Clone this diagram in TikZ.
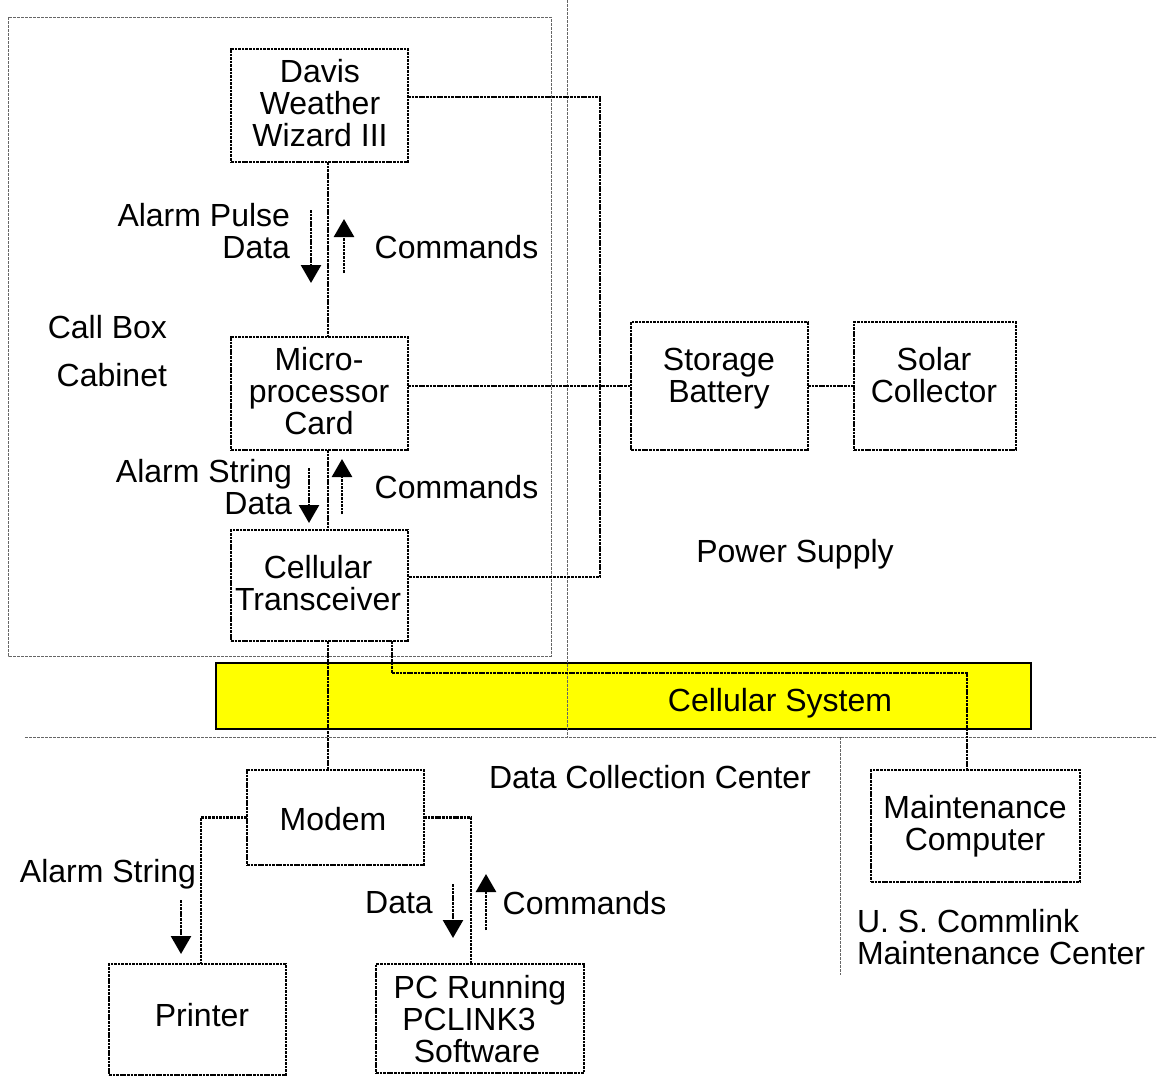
\documentclass[tikz,border=0pt]{standalone}
\usepackage{fontspec}
\setmainfont{Liberation Sans}
\usetikzlibrary{arrows.meta,calc}
\definecolor{cellyellow}{RGB}{255,255,0}

\begin{document}
\begin{tikzpicture}[x=1pt,y=-1pt,
  txt/.style={inner sep=0pt, outer sep=0pt, align=center,
    font=\fontsize{32}{32}\selectfont},
  dotline/.style={line width=2.6pt, dash pattern=on 2.7pt off 0.9pt},
  box/.style={draw, dotline, inner sep=0pt, outer sep=0pt},
  conn/.style={dotline},
  flow/.style={dotline, -{Triangle[width=20pt,length=18pt]}},
  region/.style={draw=black!60, line width=1pt, dash pattern=on 3pt off 1pt}]

\useasboundingbox (0,0) rectangle (1157,1076);

% cellular network band
\draw[fill=cellyellow, line width=2.5pt] (216,663) rectangle (1031,729);

% region boundaries
\draw[region] (8,17) rectangle (551,656);
\draw[region] (567,0) -- (567,737);
\draw[region] (25,737) -- (1157,737);
\draw[region] (840,737) -- (840,975);

% equipment boxes
\node[box, minimum width=177pt, minimum height=113pt] (davis)   at (319.5,105.5) {};
\node[box, minimum width=177pt, minimum height=113pt] (micro)   at (319.5,393.5) {};
\node[box, minimum width=177pt, minimum height=111pt] (trans)   at (319.5,585.5) {};
\node[box, minimum width=177pt, minimum height=128pt] (battery) at (719.5,386) {};
\node[box, minimum width=162pt, minimum height=128pt] (solar)   at (935,386) {};
\node[box, minimum width=177pt, minimum height=95pt]  (modem)   at (335.5,817.5) {};
\node[box, minimum width=177pt, minimum height=111pt] (printer) at (197.5,1019.5) {};
\node[box, minimum width=208pt, minimum height=109pt] (pc)      at (480,1018.5) {};
\node[box, minimum width=209pt, minimum height=112pt] (maint)   at (975.5,826) {};

% box texts
\node[txt] (tdavis)   at (320,103)  {Davis\\Weather\\Wizard III};
\node[txt] (tmicro)   at (319,391)  {Micro-\\processor\\Card};
\node[txt] (ttrans)   at (318,583)  {Cellular\\Transceiver};
\node[txt] (tbattery) at (719,379)  {Storage\\Battery};
\node[txt] (tsolar)   at (934,375)  {Solar\\Collector};
\node[txt] (tmodem)   at (333,819)  {Modem};
\node[txt] (tprinter) at (202,1015) {Printer};
\node[txt] (tpc)      at (480,1019) {PC Running\\PCLINK3\hspace{22pt}\null\\Software\hspace{6pt}\null};
\node[txt] (tmaint)   at (975,826)  {Maintenance\\Computer};

% anchor points for the connectors
\coordinate (bus) at (600,340);
\coordinate (d1) at ($(davis.south)+(8.5,0)$);
\coordinate (c1) at ($(micro.south)+(8.5,0)$);
\coordinate (t1) at ($(trans.south)+(8.5,0)$);
\coordinate (t2) at ($(trans.south)+(72.5,0)$);
\coordinate (m1) at ($(maint.north)+(-8.5,0)$);
\coordinate (p1) at ($(printer.north)+(3.5,0)$);
\coordinate (p2) at ($(pc.north)+(-9,0)$);

% connectors
\draw[conn] ($(davis.east)+(0,-8.5)$) -| (bus) |- ($(trans.east)+(0,-8.5)$);
\draw[conn] (micro.east |- battery.west) -- (battery.west);
\draw[conn] (battery.east) -- (solar.west);
\draw[conn] (d1) -- (d1 |- micro.north);
\draw[conn] (c1) -- (c1 |- trans.north);
\draw[conn] (t1) -- (t1 |- modem.north);
\draw[conn] (t2) -- ++(0,32) -| (m1);
\draw[conn] (modem.west) -| (p1);
\draw[conn] (modem.east) -| (p2);

% data flow arrows
\draw[flow] (311,210) -- (311,283);
\draw[flow] (344,273) -- (344,219);
\draw[flow] (309,468) -- (309,523);
\draw[flow] (342,514) -- (342,459);
\draw[flow] (181,900) -- (181,954);
\draw[flow] (453,884) -- (453,938);
\draw[flow] (486,930) -- (486,874);

% labels
\node[txt, align=right, anchor=east] (lpulse) at (290,231) {Alarm Pulse\\Data};
\node[txt] (lcmd1) at (456.5,247) {Commands};
\node[txt, align=right, anchor=east] (lcab) at (167,351) {Call Box\\[16pt]Cabinet};
\node[txt, align=right, anchor=east] (lstring) at (292,487) {Alarm String\\Data};
\node[txt] (lcmd2) at (456.5,487) {Commands};
\node[txt] (lpower) at (795,554) {Power Supply};
\node[txt] (lcell) at (780,703) {Cellular System};
\node[txt] (ldcc) at (650,777) {Data Collection Center};
\node[txt] (lstring2) at (108,874) {Alarm String};
\node[txt] (ldata) at (399,903) {Data};
\node[txt] (lcmd3) at (584.5,903) {Commands};
\node[txt, align=left, anchor=west] (lusc) at (857,937) {U. S. Commlink\\Maintenance Center};

\end{tikzpicture}
\end{document}
